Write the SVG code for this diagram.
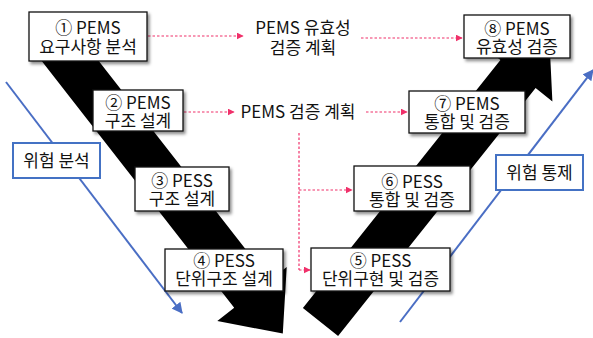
<svg xmlns="http://www.w3.org/2000/svg" width="593" height="338" viewBox="0 0 593 338">
<defs>
<filter id="sh" x="-10%" y="-10%" width="130%" height="140%">
<feDropShadow dx="2" dy="2.5" stdDeviation="1.5" flood-color="#000" flood-opacity="0.45"/>
</filter>
<marker id="pa" viewBox="0 0 10 10" refX="9" refY="5" markerWidth="7" markerHeight="7" markerUnits="userSpaceOnUse" orient="auto">
<path d="M0,0 L10,5 L0,10 z" fill="#f0306a"/>
</marker>
<marker id="ba" viewBox="0 0 10 10" refX="9" refY="5" markerWidth="11" markerHeight="11" markerUnits="userSpaceOnUse" orient="auto">
<path d="M0,0 L10,5 L0,10 z" fill="#4a6ec4"/>
</marker>
<style>
.box{fill:#fff;stroke:#111;stroke-width:1.3;filter:url(#sh)}
.bbox{fill:#fff;stroke:#4472c4;stroke-width:2}
.t{font-family:"Noto Sans CJK KR","Noto Sans",sans-serif;font-size:17px;fill:#111;text-anchor:middle}
.dl{fill:none;stroke:#f0306a;stroke-width:1.2;stroke-dasharray:2.5,2}
.bl{fill:none;stroke:#4a6ec4;stroke-width:2}
</style>
</defs>
<rect width="593" height="338" fill="#fff"/>

<g id="flow-arrows">
<polygon points="73.4,28.5 269.8,280.2 286.7,266.9 282.8,333.5 217.3,321.1 234.2,307.8 37.8,56.1" fill="#000"/>
<polygon points="302.9,308 500.4,60 483.6,46.6 549.2,34.9 552.4,101.4 535.6,88 338.1,336" fill="#000"/>
</g>

<g id="connectors">
<line class="bl" x1="6" y1="82" x2="182" y2="313" marker-end="url(#ba)"/>
<line class="bl" x1="400" y1="322" x2="593" y2="70" marker-end="url(#ba)"/>
<line class="dl" x1="148" y1="36" x2="243" y2="36" marker-end="url(#pa)"/>
<line class="dl" x1="361" y1="38" x2="462" y2="38" marker-end="url(#pa)"/>
<line class="dl" x1="184" y1="112" x2="234" y2="112" marker-end="url(#pa)"/>
<line class="dl" x1="366" y1="112" x2="407" y2="112" marker-end="url(#pa)"/>
<line class="dl" x1="299" y1="133" x2="299" y2="270"/>
<line class="dl" x1="299" y1="190" x2="352" y2="190" marker-end="url(#pa)"/>
<line class="dl" x1="299" y1="270" x2="310" y2="270" marker-end="url(#pa)"/>
</g>

<g id="plan1">
<text class="t" x="303" y="34">PEMS 유효성</text>
<text class="t" x="303" y="53.5">검증 계획</text>
</g>
<g id="plan2">
<text class="t" x="298" y="117.5">PEMS 검증 계획</text>
</g>

<g id="n1"><rect class="box" x="29" y="12" width="118" height="49"/>
<text class="t" x="88" y="33.5">① PEMS</text><text class="t" x="88" y="52.5">요구사항 분석</text></g>
<g id="n2"><rect class="box" x="93" y="90" width="90" height="41"/>
<text class="t" x="138" y="108.5">② PEMS</text><text class="t" x="138" y="126.5">구조 설계</text></g>
<g id="n3"><rect class="box" x="135" y="167" width="94" height="44"/>
<text class="t" x="182" y="186.5">③ PESS</text><text class="t" x="182" y="204.5">구조 설계</text></g>
<g id="n4"><rect class="box" x="165" y="249" width="118" height="42"/>
<text class="t" x="224" y="266.5">④ PESS</text><text class="t" x="224" y="284.5">단위구조 설계</text></g>
<g id="n5"><rect class="box" x="311" y="248" width="139" height="43"/>
<text class="t" x="380.5" y="266.5">⑤ PESS</text><text class="t" x="380.5" y="284.5">단위구현 및 검증</text></g>
<g id="n6"><rect class="box" x="354" y="166" width="116" height="45"/>
<text class="t" x="412" y="187.5">⑥ PESS</text><text class="t" x="412" y="205.5">통합 및 검증</text></g>
<g id="n7"><rect class="box" x="409" y="91" width="116" height="42"/>
<text class="t" x="467" y="109.5">⑦ PEMS</text><text class="t" x="467" y="127.5">통합 및 검증</text></g>
<g id="n8"><rect class="box" x="464" y="15" width="106" height="43"/>
<text class="t" x="517" y="35">⑧ PEMS</text><text class="t" x="517" y="53">유효성 검증</text></g>

<g id="risk-analysis"><rect class="bbox" x="13" y="143" width="87" height="35"/>
<text class="t" x="56.5" y="166.5">위험 분석</text></g>
<g id="risk-control"><rect class="bbox" x="496" y="155" width="87" height="35"/>
<text class="t" x="539.5" y="178.5">위험 통제</text></g>
</svg>
